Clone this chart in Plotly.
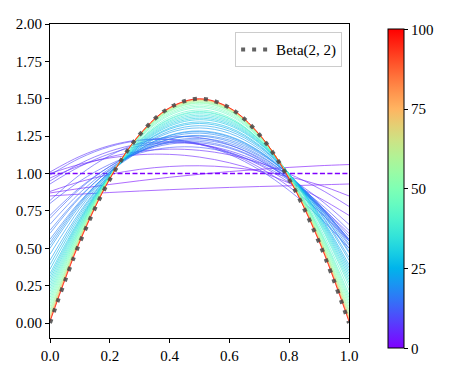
import numpy as np
import plotly.graph_objects as go

# grid the curves were read at
x_grid = [0.0, 0.1, 0.2, 0.3, 0.4, 0.5, 0.6, 0.7, 0.8, 0.9, 1.0]

# iteration number of each drawn curve (colour index 0..100)
iterations = [0, 1, 2, 3, 4, 5, 6, 7, 8, 9, 10,
              11, 12, 13, 14, 15, 16, 17, 18, 19, 20,
              21, 22, 24, 26, 28, 30, 32, 34, 36, 38,
              40, 42, 44, 46, 48, 50, 53, 56, 60, 65, 70, 76, 84, 100]

# density estimate at x_grid, one row per iteration
curve_values = [
    [1.0, 1.0, 1.0, 1.0, 1.0, 1.0, 1.0, 1.0, 1.0, 1.0, 1.0],
    [0.87, 0.90, 0.927, 0.952, 0.975, 0.995, 1.013, 1.028, 1.041, 1.052, 1.06],
    [0.85, 0.862, 0.873, 0.883, 0.892, 0.90, 0.907, 0.913, 0.918, 0.924, 0.93],
    [0.88, 0.945, 0.994, 1.028, 1.047, 1.052, 1.042, 1.017, 0.978, 0.924, 0.85],
    [1.0, 1.062, 1.104, 1.126, 1.128, 1.11, 1.072, 1.014, 0.936, 0.838, 0.72],
    [0.97, 1.052, 1.111, 1.148, 1.163, 1.155, 1.125, 1.072, 0.997, 0.90, 0.78],
    [1.01, 1.115, 1.187, 1.225, 1.229, 1.20, 1.137, 1.041, 0.911, 0.747, 0.55],
    [0.95, 1.066, 1.149, 1.198, 1.213, 1.195, 1.143, 1.058, 0.939, 0.786, 0.60],
    [0.93, 1.047, 1.132, 1.185, 1.206, 1.195, 1.152, 1.077, 0.97, 0.831, 0.66],
    [0.99, 1.103, 1.18, 1.221, 1.226, 1.195, 1.128, 1.025, 0.886, 0.711, 0.50],
    [0.82, 0.992, 1.12, 1.204, 1.244, 1.24, 1.192, 1.10, 0.964, 0.784, 0.56],
    [0.80, 0.949, 1.062, 1.137, 1.174, 1.175, 1.138, 1.065, 0.954, 0.805, 0.62],
    [0.72, 0.906, 1.047, 1.144, 1.197, 1.205, 1.169, 1.088, 0.963, 0.794, 0.58],
    [0.70, 0.897, 1.048, 1.151, 1.206, 1.215, 1.176, 1.091, 0.958, 0.777, 0.55],
    [0.66, 0.871, 1.034, 1.147, 1.21, 1.225, 1.19, 1.107, 0.974, 0.791, 0.56],
    [0.62, 0.847, 1.022, 1.145, 1.216, 1.235, 1.202, 1.117, 0.98, 0.791, 0.55],
    [0.60, 0.84, 1.026, 1.156, 1.23, 1.25, 1.214, 1.124, 0.978, 0.776, 0.52],
    [0.56, 0.813, 1.008, 1.147, 1.23, 1.255, 1.224, 1.135, 0.99, 0.789, 0.53],
    [0.54, 0.806, 1.012, 1.158, 1.244, 1.27, 1.236, 1.142, 0.988, 0.774, 0.50],
    [0.52, 0.797, 1.011, 1.163, 1.253, 1.28, 1.245, 1.147, 0.987, 0.765, 0.48],
    [0.50, 0.785, 1.006, 1.163, 1.256, 1.285, 1.25, 1.151, 0.988, 0.761, 0.47],
    [0.46, 0.766, 1.003, 1.172, 1.273, 1.305, 1.269, 1.164, 0.991, 0.75, 0.44],
    [0.42, 0.744, 0.996, 1.176, 1.284, 1.32, 1.284, 1.176, 0.996, 0.744, 0.42],
    [0.39, 0.73, 0.995, 1.184, 1.297, 1.335, 1.297, 1.184, 0.995, 0.73, 0.39],
    [0.36, 0.714, 0.989, 1.186, 1.305, 1.345, 1.307, 1.19, 0.995, 0.722, 0.37],
    [0.33, 0.699, 0.987, 1.193, 1.317, 1.36, 1.321, 1.201, 0.999, 0.715, 0.35],
    [0.31, 0.69, 0.986, 1.198, 1.326, 1.37, 1.33, 1.206, 0.998, 0.706, 0.33],
    [0.29, 0.681, 0.985, 1.203, 1.335, 1.38, 1.339, 1.211, 0.997, 0.697, 0.31],
    [0.27, 0.672, 0.984, 1.208, 1.344, 1.39, 1.348, 1.216, 0.996, 0.688, 0.29],
    [0.25, 0.662, 0.984, 1.214, 1.352, 1.40, 1.356, 1.222, 0.996, 0.678, 0.27],
    [0.23, 0.653, 0.983, 1.219, 1.361, 1.41, 1.365, 1.227, 0.995, 0.669, 0.25],
    [0.21, 0.643, 0.98, 1.221, 1.366, 1.415, 1.368, 1.225, 0.986, 0.651, 0.22],
    [0.19, 0.635, 0.98, 1.227, 1.376, 1.425, 1.376, 1.227, 0.98, 0.635, 0.19],
    [0.17, 0.627, 0.983, 1.237, 1.389, 1.44, 1.389, 1.237, 0.983, 0.627, 0.17],
    [0.15, 0.618, 0.982, 1.242, 1.398, 1.45, 1.398, 1.242, 0.982, 0.618, 0.15],
    [0.13, 0.609, 0.981, 1.247, 1.407, 1.46, 1.407, 1.247, 0.981, 0.609, 0.13],
    [0.11, 0.60, 0.98, 1.252, 1.416, 1.47, 1.416, 1.252, 0.98, 0.60, 0.11],
    [0.09, 0.589, 0.976, 1.253, 1.42, 1.475, 1.42, 1.253, 0.976, 0.589, 0.09],
    [0.075, 0.581, 0.974, 1.255, 1.424, 1.48, 1.424, 1.255, 0.974, 0.581, 0.075],
    [0.06, 0.573, 0.972, 1.257, 1.428, 1.485, 1.428, 1.257, 0.972, 0.573, 0.06],
    [0.045, 0.565, 0.97, 1.259, 1.432, 1.49, 1.432, 1.259, 0.97, 0.565, 0.045],
    [0.035, 0.56, 0.968, 1.26, 1.435, 1.493, 1.435, 1.26, 0.968, 0.56, 0.035],
    [0.025, 0.555, 0.966, 1.261, 1.437, 1.496, 1.437, 1.261, 0.966, 0.555, 0.025],
    [0.015, 0.549, 0.964, 1.261, 1.439, 1.498, 1.439, 1.261, 0.964, 0.549, 0.015],
    [0.01, 0.546, 0.964, 1.262, 1.44, 1.50, 1.44, 1.262, 0.964, 0.546, 0.01],
]

beta_values = [0.0, 0.54, 0.96, 1.26, 1.44, 1.50, 1.44, 1.26, 0.96, 0.54, 0.0]

FONT = "Liberation Serif"


def rainbow(t):
    # matplotlib 'rainbow' colormap
    r = min(1.0, abs(2 * t - 0.5))
    g = min(1.0, abs(np.sin(np.pi * t)))
    b = min(1.0, abs(np.cos(np.pi * t / 2)))
    return f"rgb({int(r*255)},{int(g*255)},{int(b*255)})"


fig = go.Figure()

for k, vals in zip(iterations, curve_values):
    fig.add_trace(go.Scatter(
        x=x_grid, y=vals, mode="lines", line_shape="spline",
        line=dict(color=rainbow(k / 100), width=1.3 if k == 0 else 0.7,
                  dash="5px,2.5px" if k == 0 else "solid"),
        opacity=1.0 if k in (0, 100) else 0.85,
        showlegend=False, hoverinfo="skip",
    ))

fig.add_trace(go.Scatter(
    x=x_grid, y=beta_values, mode="lines", line_shape="spline",
    line=dict(color="rgba(70,70,70,0.85)", width=4, dash="4px,7px"),
    name="Beta(2, 2)",
))

# colourbar only
stops = np.linspace(0, 1, 21)
fig.add_trace(go.Scatter(
    x=[None, None], y=[None, None], mode="markers", showlegend=False,
    marker=dict(color=[0, 100], cmin=0, cmax=100,
                colorscale=[[float(s), rainbow(s)] for s in stops],
                showscale=True,
                colorbar=dict(thickness=16, len=1.017, lenmode="fraction",
                              y=0.475, yanchor="middle", x=1.13, xanchor="left",
                              xpad=0, ypad=0, outlinewidth=1, outlinecolor="black",
                              ticks="outside", ticklen=4, tickcolor="black",
                              tickvals=[0, 25, 50, 75, 100],
                              tickfont=dict(family=FONT, size=15, color="black"))),
))

axis_common = dict(showline=True, mirror=True, linecolor="black", linewidth=1,
                   ticks="outside", ticklen=4, tickcolor="black", showgrid=False,
                   zeroline=False, tickfont=dict(family=FONT, size=15, color="black"))

fig.update_xaxes(range=[0, 1], tickvals=[0, 0.2, 0.4, 0.6, 0.8, 1.0],
                 tickformat=".1f", **axis_common)
fig.update_yaxes(range=[-0.1, 2.0], tickvals=[0, 0.25, 0.5, 0.75, 1.0, 1.25, 1.5, 1.75, 2.0],
                 tickformat=".2f", **axis_common)

# page body adds 8px margin, so the figure is 8px smaller and shifted
fig.update_layout(
    width=441, height=366,
    margin=dict(l=41, r=100, t=8, b=36),
    plot_bgcolor="white", paper_bgcolor="white",
    font=dict(family=FONT, size=15, color="black"),
    legend=dict(x=0.977, y=0.974, xanchor="right", yanchor="top",
                bgcolor="white", bordercolor="#cccccc", borderwidth=1,
                font=dict(family=FONT, size=15)),
)

fig.write_html("out.html")
